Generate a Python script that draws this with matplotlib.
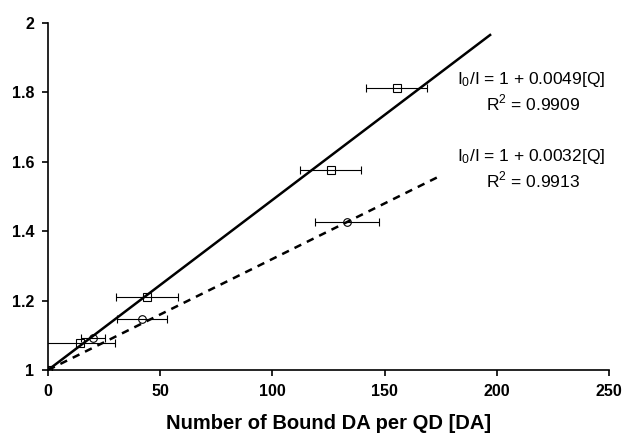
import numpy as np
import matplotlib
matplotlib.use('Agg')
import matplotlib.pyplot as plt

plt.rcParams['font.family'] = ['Liberation Sans', 'DejaVu Sans']
plt.rcParams['mathtext.fontset'] = 'custom'
plt.rcParams['mathtext.rm'] = 'Liberation Sans'

# ------------------------------  DATA  -----------------------------
# squares (upper set)
sq_x = [0, 14.3, 44.1, 126.0, 155.5]
sq_y = [1.0, 1.078, 1.21, 1.576, 1.812]
sq_err = [0, 15.5, 13.6, 13.6, 13.6]
# circles (lower set)
ci_x = [0, 20.0, 41.9, 133.2]
ci_y = [1.0, 1.092, 1.147, 1.427]
ci_err = [0, 5.5, 11.2, 14.2]
# linear fits
slope_sq, xend_sq = 0.0049, 197
slope_ci, xend_ci = 0.0032, 175
fit_labels = [r'$\mathregular{I_0}$/I = 1 + 0.0049[Q]', r'R$^\mathregular{2}$ = 0.9909',
              r'$\mathregular{I_0}$/I = 1 + 0.0032[Q]', r'R$^\mathregular{2}$ = 0.9913']

# ------------------------------  PLOT  -----------------------------
fig = plt.figure(figsize=(6.24, 4.41), dpi=100)
ax = fig.add_axes([0.077, 0.161, 0.899, 0.787])

xs = np.array([0, xend_sq])
ax.plot(xs, 1 + slope_sq * xs, color='black', lw=1.8, zorder=2)
xc = np.array([0, xend_ci])
ax.plot(xc, 1 + slope_ci * xc, color='black', lw=1.8, ls=(0, (3, 2.5)), zorder=2)

ax.errorbar(sq_x, sq_y, xerr=sq_err, fmt='s', mfc='none', mec='black',
            ms=6, mew=0.8, ecolor='black', elinewidth=0.8, capsize=3, zorder=3)
ax.errorbar(ci_x, ci_y, xerr=ci_err, fmt='o', mfc='none', mec='black',
            ms=5.5, mew=0.8, ecolor='black', elinewidth=0.8, capsize=3, zorder=3)

ax.text(215.5, 1.836, fit_labels[0], ha='center', va='center', fontsize=12.5)
ax.text(216, 1.769, fit_labels[1], ha='center', va='center', fontsize=12.5)
ax.text(215.5, 1.614, fit_labels[2], ha='center', va='center', fontsize=12.5)
ax.text(216, 1.548, fit_labels[3], ha='center', va='center', fontsize=12.5)

ax.set_xlim(0, 250)
ax.set_ylim(1, 2)
ax.set_xticks(np.arange(0, 251, 50))
ax.set_yticks([1, 1.2, 1.4, 1.6, 1.8, 2])
ax.set_yticklabels(['1', '1.2', '1.4', '1.6', '1.8', '2'])
ax.spines['top'].set_visible(False)
ax.spines['right'].set_visible(False)
for s in ['left', 'bottom']:
    ax.spines[s].set_linewidth(1.2)
ax.tick_params(direction='out', length=4, width=1.2, labelsize=11.5, pad=6)
for lbl in ax.get_xticklabels() + ax.get_yticklabels():
    lbl.set_fontweight('bold')
ax.set_xlabel('Number of Bound DA per QD [DA]', fontsize=14.5,
              fontweight='bold', labelpad=11)

fig.savefig('out.png', dpi=100)
